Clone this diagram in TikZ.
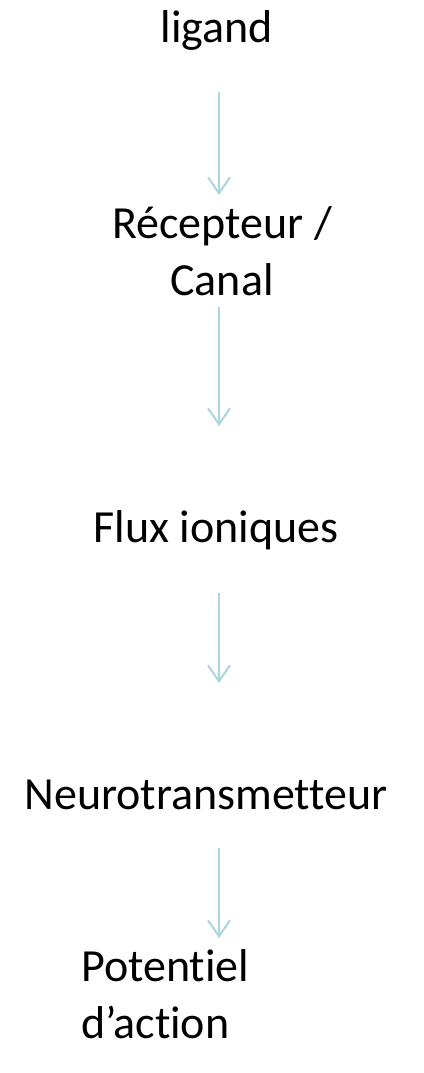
\documentclass[tikz,border=0pt]{standalone}
\usepackage{fontspec}
\setmainfont{Carlito}[Ligatures=NoCommon]
\usetikzlibrary{arrows.meta}
\definecolor{flechebleu}{HTML}{A8D6DC}
\tikzset{
	etape/.style={inner sep=0pt, align=center, font=\fontsize{46}{57}\selectfont},
	fleche/.style={line width=2pt, color=flechebleu, -{Straight Barb[length=16pt, width=22pt, line width=2pt]}}
}

\begin{document}
\begin{tikzpicture}[x=1pt, y=-1pt]
		%%%%% START %%%%%
		\useasboundingbox (0, 0) rectangle (423, 1073);
		
		\node[etape] (ligand) at (217, 30) {ligand};
		\node[etape] (recepteur) at (222, 251) {Récepteur /\\Canal};
		\node[etape] (flux) at (216, 530) {Flux ioniques};
		\node[etape] (neuro) at (206, 795) {Neurotransmetteur};
		\node[etape, align=left, anchor=west] (potentiel) at (81, 994) {Potentiel\\d’action};
		
		\coordinate (a1) at (219, 92);  \coordinate (b1) at (219, 195);
		\coordinate (a2) at (219, 307); \coordinate (b2) at (219, 426);
		\coordinate (a3) at (219, 593); \coordinate (b3) at (219, 683);
		\coordinate (a4) at (219, 848); \coordinate (b4) at (219, 938);
		
		\draw[fleche] (a1) -- (b1);
		\draw[fleche] (a2) -- (b2);
		\draw[fleche] (a3) -- (b3);
		\draw[fleche] (a4) -- (b4);
		
		%%%%% END %%%%%
	\end{tikzpicture}
\end{document}
